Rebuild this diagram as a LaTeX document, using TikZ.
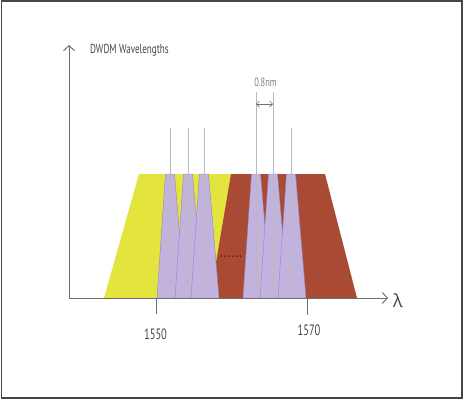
\documentclass[tikz,border=0pt]{standalone}
\usepackage{fontspec}
\newfontfamily\plotfont[FakeStretch=0.7]{PT Sans}
\newfontfamily\lambdafont{Open Sans}
\usetikzlibrary{arrows.meta}
\definecolor{bandyellow}{RGB}{228,228,62}
\definecolor{bandbrown}{RGB}{168,74,52}
\definecolor{chanlilac}{RGB}{194,178,222}
\definecolor{chanedge}{RGB}{148,134,184}
\definecolor{axisgray}{RGB}{112,112,112}
\definecolor{labelgray}{RGB}{70,70,70}
\definecolor{framegray}{RGB}{70,70,70}

\begin{document}
\begin{tikzpicture}[x=1pt, y=-1pt,
  axis/.style={draw=axisgray, line width=1pt, -{Straight Barb[length=5pt, width=11pt]}},
  tick/.style={draw=axisgray, line width=0.8pt},
  chanline/.style={draw=gray!55, line width=0.5pt},
  channel/.style={fill=chanlilac, draw=chanedge, line width=0.4pt},
  label/.style={font=\plotfont\fontsize{#1}{#1}\selectfont, text=labelgray, inner sep=0pt},
  label/.default=13]

  \useasboundingbox (0, 0) rectangle (464, 400);

  \draw[framegray, line width=1.5pt] (1.5, 1) rectangle (462, 398);

  \fill[bandyellow] (104, 298) -- (139, 174) -- (240, 174) -- (240, 298) -- cycle;

  \fill[bandbrown] (210, 298) -- (231, 174) -- (325, 174) -- (357, 298) -- cycle;

  \foreach \c in {170, 188, 204, 256, 273, 291}
    \path[channel] (\c-4.5, 174) -- (\c+4.5, 174) -- (\c+15, 298) -- (\c-13, 298) -- cycle;

  \foreach \c/\top in {170/128, 188/128, 204/128, 256/92, 273/92, 291/128}
    \draw[chanline] (\c, \top) -- (\c, 298);

  \coordinate (origin) at (69, 298);

  \coordinate (ytop) at (69, 45);

  \coordinate (xend) at (388, 298);

  \draw[axis] (origin) -- (ytop);

  \draw[axis] (origin) -- (xend);

  \node (lambda) at (398, 307) [anchor=base, font=\lambdafont\fontsize{18}{18}\selectfont, text=labelgray, inner sep=0pt] {λ};

  \node (title) at (90, 53) [label, anchor=base west] {DWDM Wavelengths};

  \coordinate (tick1550) at (156, 298);

  \coordinate (tick1570) at (307, 298);

  \node (f1550) at (155.5, 339) [label=15, anchor=base] {1550};

  \node (f1570) at (309, 335) [label=15, anchor=base] {1570};

  \draw[tick] (tick1550) -- ++(0, 16);

  \draw[tick] (tick1570) -- ++(0, 17);

  \coordinate (gapl) at (256, 104);

  \coordinate (gapr) at (273, 104);

  \draw[draw=axisgray, line width=0.7pt, {Straight Barb[length=3pt, width=6pt]}-{Straight Barb[length=3pt, width=6pt]}] (gapl) -- (gapr);

  \node (spacing) at (265.5, 86) [label=12, anchor=base, text=gray] {0.8nm};

  \node (more) at (231, 256.5) [font=\bfseries\fontsize{12}{12}\selectfont, text={rgb,255:red,90;green,25;blue,15}, inner sep=0pt] {......};

\end{tikzpicture}
\end{document}
